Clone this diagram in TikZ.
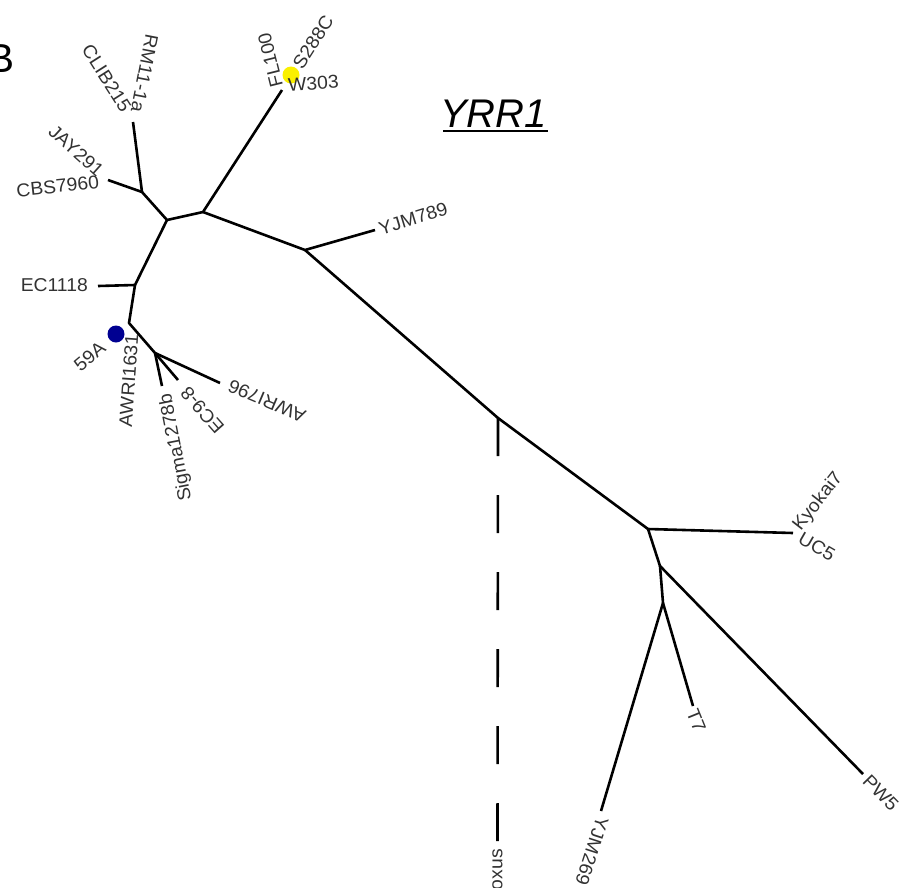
\documentclass[tikz,border=0pt]{standalone}
\usepackage{fontspec}
\newfontfamily\labfamily[FakeStretch=1.04]{Liberation Sans}
\newfontfamily\titlefamily{Liberation Sans}
\definecolor{labgray}{RGB}{50,50,50}
\definecolor{dotyellow}{RGB}{250,240,0}
\definecolor{dotblue}{RGB}{0,0,145}
\tikzset{
  branch/.style={line width=2.6pt, line join=round},
  outgroup/.style={line width=2.6pt, dash pattern=on 38pt off 39pt},
  lbl/.style={font=\labfamily\fontsize{18.6}{21}\selectfont, text=labgray, inner sep=0pt},
  dotmark/.style={circle, inner sep=0pt, minimum size=17pt}
}
\begin{document}
\begin{tikzpicture}[x=1pt,y=-1pt]
\useasboundingbox (0,0) rectangle (902,887);
% junctions
\coordinate (A) at (203,212);
\coordinate (Bj) at (142,192);
\coordinate (C) at (167,220);
\coordinate (D) at (135,285);
\coordinate (E) at (129,323);
\coordinate (F) at (155,353);
\coordinate (G) at (305,250);
\coordinate (R) at (498,418);
\coordinate (H) at (648,529);
\coordinate (I) at (660,566);
\coordinate (J) at (663,603);
% tips
\coordinate (tClib) at (133,122);
\coordinate (tCbs) at (108,180);
\coordinate (tFl) at (282,90);
\coordinate (tYjm789) at (375,230);
\coordinate (tEc1118) at (98,286);
\coordinate (tSig) at (162,386);
\coordinate (tEc98) at (178,380);
\coordinate (tAw796) at (220,383);
\coordinate (tKy) at (793,533);
\coordinate (tPw5) at (863,774);
\coordinate (tT7) at (693,706);
\coordinate (tYjm269) at (601,811);
\coordinate (tOut) at (497.5,841);
% branches
\draw[branch] (tClib) -- (Bj) -- (tCbs);
\draw[branch] (Bj) -- (C) -- (A) -- (tFl);
\draw[branch] (A) -- (G) -- (tYjm789);
\draw[branch] (G) -- (R) -- (H) -- (tKy);
\draw[branch] (H) -- (I) -- (tPw5);
\draw[branch] (I) -- (J) -- (tT7);
\draw[branch] (J) -- (tYjm269);
\draw[branch] (C) -- (D) -- (tEc1118);
\draw[branch] (D) -- (E) -- (F) -- (tSig);
\draw[branch] (F) -- (tEc98);
\draw[branch] (F) -- (tAw796);
\draw[outgroup] (R) -- (tOut);
% dots
\node[dotmark, fill=dotyellow] (ydot) at (291,75) {};
\node[dotmark, fill=dotblue] (bdot) at (116,334) {};
% labels
\node[lbl, anchor=east, rotate=-57.5] (lClib) at (127,110) {CLIB215};
\node[lbl, anchor=east, rotate=-101] (lRm) at (137,112) {RM11-1a};
\node[lbl, anchor=east, rotate=-42] (lJay) at (101,173) {JAY291};
\node[lbl, anchor=east, rotate=6] (lCbs) at (99,182) {CBS7960};
\node[lbl, anchor=east] (lEc1118) at (88,285) {EC1118};
\node[lbl, anchor=east, rotate=86] (lAwri1631) at (132,334) {AWRI1631};
\node[lbl, anchor=east, rotate=40] (l59a) at (103,345) {59A};
\node[lbl, anchor=east, rotate=101] (lSig) at (166,394) {Sigma1278b};
\node[lbl, anchor=east, rotate=131.5] (lEc98) at (184,390) {EC9-8};
\node[lbl, anchor=east, rotate=157] (lAw796) at (229,385) {AWRI796};
\node[lbl, anchor=west, rotate=104] (lFl) at (277,87) {FL100};
\node[lbl, anchor=west, rotate=57.5] (lS288) at (297,67) {S288C};
\node[lbl, anchor=west, rotate=4] (lW303) at (288,85) {W303};
\node[lbl, anchor=west, rotate=17] (lYjm789) at (379,229) {YJM789};
\node[lbl, anchor=west, rotate=52] (lKy) at (797,529) {Kyokai7};
\node[lbl, anchor=west, rotate=-30] (lUc5) at (800,537) {UC5};
\node[lbl, anchor=west, rotate=-68] (lT7) at (692,710) {T7};
\node[lbl, anchor=west, rotate=-45.7] (lPw5) at (866,778) {PW5};
\node[lbl, anchor=west, rotate=-108] (lYjm269) at (603,817) {YJM269};
\node[lbl, anchor=east, rotate=90] (lOut) at (497.5,849) {paradoxus};
% panel letter and title
\node[font=\titlefamily\fontsize{40.5}{44}\selectfont, inner sep=0pt, anchor=base east] (panel) at (15,72) {B};
\node[font=\titlefamily\itshape\fontsize{40}{44}\selectfont, inner sep=0pt, anchor=base west] (title) at (440,127) {YRR1};
\coordinate (ulA) at (443,131);
\coordinate (ulB) at (548,131);
\draw[line width=2pt] (ulA) -- (ulB);
\end{tikzpicture}
\end{document}
